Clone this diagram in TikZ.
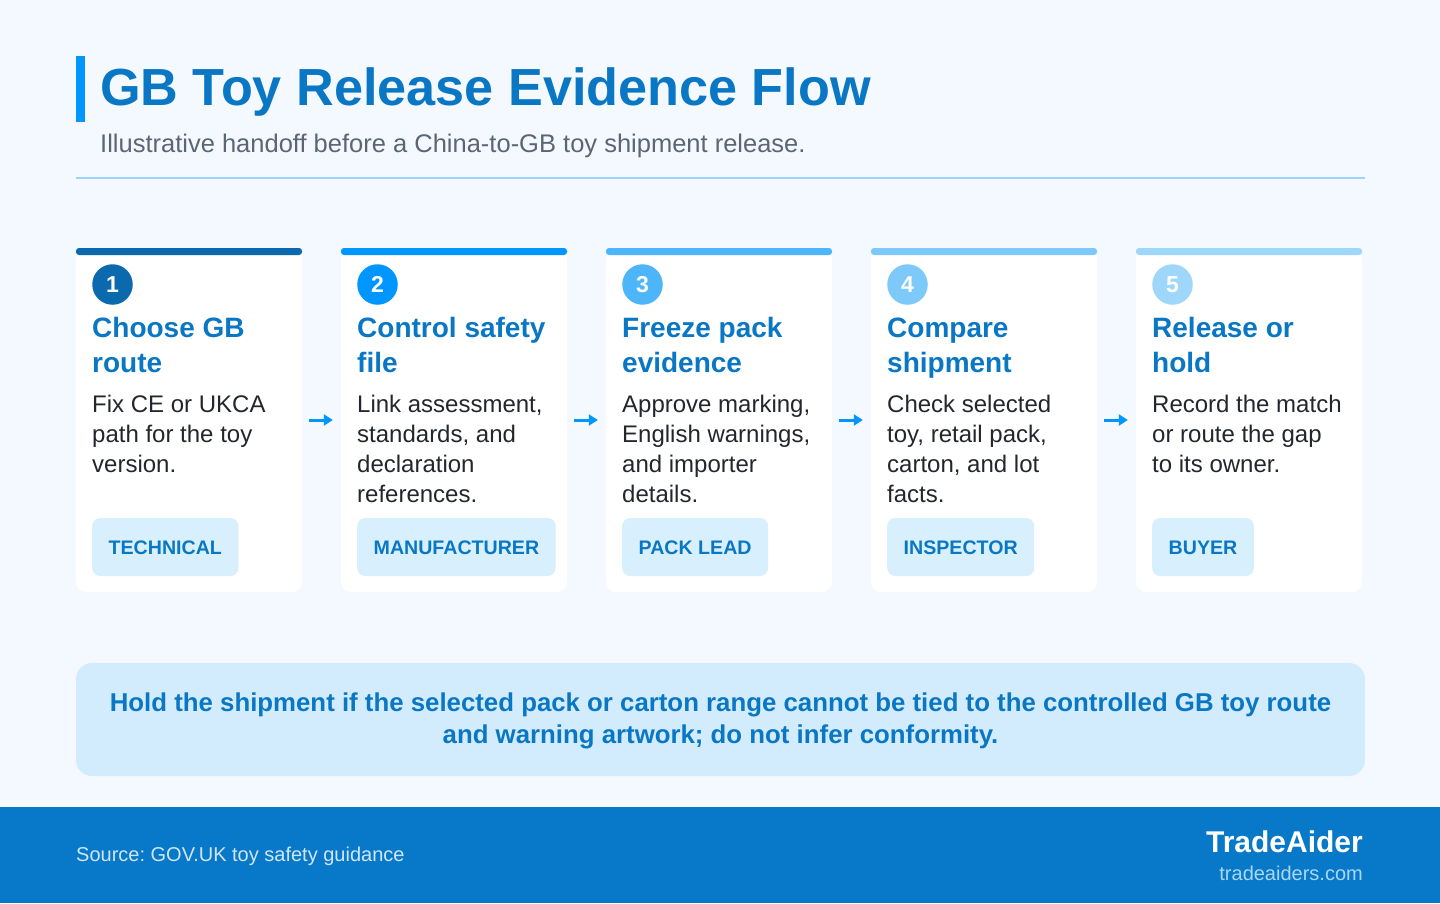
\documentclass[tikz,border=0pt]{standalone}
\usepackage{fontspec}
\setmainfont{Liberation Sans}
\usetikzlibrary{arrows.meta}
\frenchspacing
\definecolor{bg}{HTML}{F4F9FF}
\definecolor{titleblue}{HTML}{0A77C4}
\definecolor{accent}{HTML}{0096FF}
\definecolor{subgray}{HTML}{5B6675}
\definecolor{divider}{HTML}{9CD4FA}
\definecolor{barA}{HTML}{0A6AAD}
\definecolor{barB}{HTML}{0096FF}
\definecolor{barC}{HTML}{4DB6FB}
\definecolor{barD}{HTML}{7DC9F9}
\definecolor{barE}{HTML}{9FD7FB}
\definecolor{tagfill}{HTML}{D8EFFD}
\definecolor{callfill}{HTML}{D3ECFD}
\definecolor{footer}{HTML}{0878C8}
\definecolor{bodytext}{HTML}{23272D}
\definecolor{srctext}{HTML}{CFE6F8}
\definecolor{urltext}{HTML}{A8D8F8}
\newcommand\stepcard[7]{%
  \node[cardbox] (c#1) at (#2+113,420) {};
  \fill[#3, rounded corners=3pt] (#2,248) rectangle ++(226,7);
  \node[badge, fill=#3] (n#1) at (#2+36.5,284.5) {#1};
  \node[ttl] (t#1a) at (#2+16,337) {#4};
  \node[ttl] (t#1b) at (#2+16,372) {#5};
  \foreach \t [count=\k] in {#7} \node[body] (b#1-\k) at (#2+16,{412+30*(\k-1)}) {\t};
  \node[tagbox] (g#1) at (#2+16,547) {#6};
}
\begin{document}
\begin{tikzpicture}[x=1pt,y=-1pt,
  cardbox/.style={fill=white, rounded corners=10pt, minimum width=226pt, minimum height=344pt, inner sep=0pt},
  badge/.style={circle, minimum size=40.5pt, inner sep=0pt, text=white, font=\fontsize{23}{23}\selectfont\bfseries},
  ttl/.style={anchor=base west, inner sep=0pt, text=titleblue, font=\fontsize{28}{28}\selectfont\bfseries},
  body/.style={anchor=base west, inner sep=0pt, text=bodytext, font=\fontsize{24}{24}\selectfont},
  tagbox/.style={anchor=west, fill=tagfill, rounded corners=8pt, minimum height=58pt, inner xsep=16.5pt, inner ysep=0pt, text height=14pt, text depth=0pt, text=titleblue, font=\fontsize{19.6}{19.6}\selectfont\bfseries},
  flow/.style={draw=accent, line width=3pt, -{Triangle[length=9pt,width=11pt]}, shorten <=7pt, shorten >=8pt},
  calltxt/.style={anchor=base, inner sep=0pt, text=titleblue, font=\fontsize{25.8}{25.8}\selectfont\bfseries}
]
\useasboundingbox (0,0) rectangle (1440,903);
\fill[bg] (0,0) rectangle (1440,903);
% header
\fill[accent] (76,56) rectangle (85,122);
\node[anchor=base west, inner sep=0pt, text=titleblue, font=\fontsize{52.2}{52.2}\selectfont\bfseries] (title) at (100,105) {GB Toy Release Evidence Flow};
\node[anchor=base west, inner sep=0pt, text=subgray, font=\fontsize{25.5}{25.5}\selectfont] (sub) at (100,152) {Illustrative handoff before a China-to-GB toy shipment release.};
\draw[divider, line width=2pt] (76,177.5) -- (1365,177.5);
% cards
\stepcard{1}{76}{barA}{Choose GB}{route}{TECHNICAL}{{Fix CE or UKCA},{path for the toy},{version.}}
\stepcard{2}{341}{barB}{Control safety}{file}{MANUFACTURER}{{Link assessment,},{standards, and},{declaration},{references.}}
\stepcard{3}{606}{barC}{Freeze pack}{evidence}{PACK LEAD}{{Approve marking,},{English warnings,},{and importer},{details.}}
\stepcard{4}{871}{barD}{Compare}{shipment}{INSPECTOR}{{Check selected},{toy, retail pack,},{carton, and lot},{facts.}}
\stepcard{5}{1136}{barE}{Release or}{hold}{BUYER}{{Record the match},{or route the gap},{to its owner.}}
\draw[flow] (c1.east) -- (c2.west);
\draw[flow] (c2.east) -- (c3.west);
\draw[flow] (c3.east) -- (c4.west);
\draw[flow] (c4.east) -- (c5.west);
% callout
\node[fill=callfill, rounded corners=16pt, minimum width=1289pt, minimum height=113pt, inner sep=0pt] (call) at (720.5,719.5) {};
\node[calltxt] (call1) at (720.5,711) {Hold the shipment if the selected pack or carton range cannot be tied to the controlled GB toy route};
\node[calltxt] (call2) at (720.5,743) {and warning artwork; do not infer conformity.};
% footer
\fill[footer] (0,807) rectangle (1440,903);
\node[anchor=base west, inner sep=0pt, text=srctext, font=\fontsize{20}{20}\selectfont] (src) at (76,861) {Source: GOV.UK toy safety guidance};
\node[anchor=base east, inner sep=0pt, text=white, font=\fontsize{30}{30}\selectfont\bfseries] (brand) at (1363,852) {TradeAider};
\node[anchor=base east, inner sep=0pt, text=urltext, font=\fontsize{20}{20}\selectfont] (url) at (1363,880) {tradeaiders.com};
\end{tikzpicture}
\end{document}
